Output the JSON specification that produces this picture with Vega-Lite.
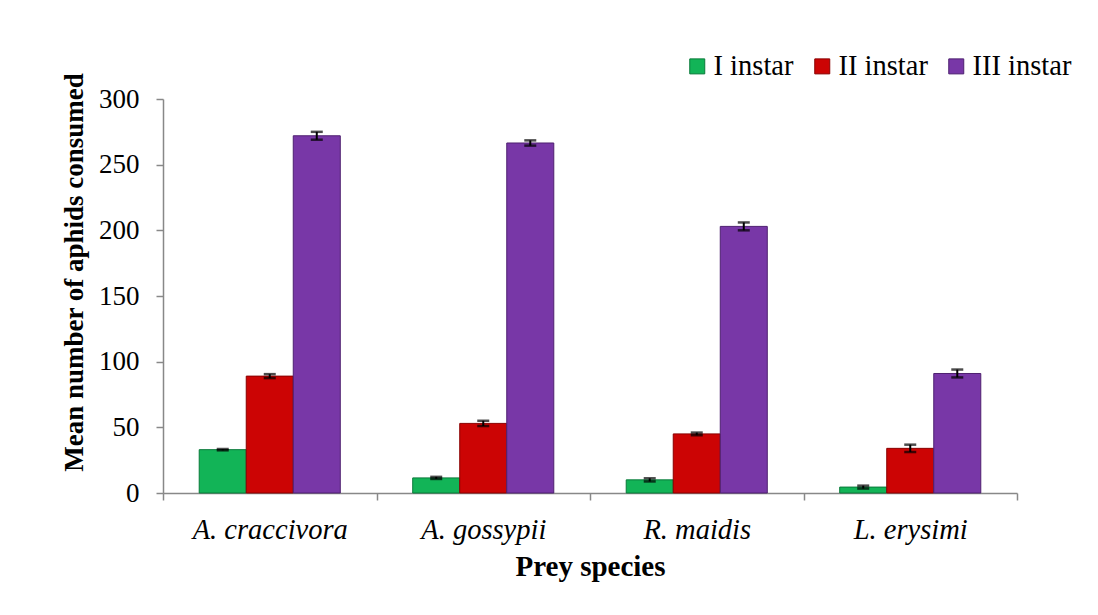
{
  "$schema": "https://vega.github.io/schema/vega-lite/v6.json",
  "width": 854,
  "height": 394,
  "autosize": {"type": "none"},
  "padding": {"left": 163, "top": 99, "right": 81, "bottom": 122},
  "background": "white",
  "config": {
    "view": {"stroke": null},
    "font": "Liberation Serif",
    "axis": {"labelColor": "black", "titleColor": "black", "grid": false, "labelFont": "Liberation Serif", "titleFont": "Liberation Serif"},
    "legend": {"labelFont": "Liberation Serif", "titleFont": "Liberation Serif"}
  },
  "data": {
    "values": [
      {"species": "A. craccivora", "instar": "I instar", "mean": 33, "lo": 32.5, "hi": 33.5},
      {"species": "A. craccivora", "instar": "II instar", "mean": 89, "lo": 87.5, "hi": 90.5},
      {"species": "A. craccivora", "instar": "III instar", "mean": 272, "lo": 269, "hi": 275},
      {"species": "A. gossypii", "instar": "I instar", "mean": 11.5, "lo": 10.7, "hi": 12.3},
      {"species": "A. gossypii", "instar": "II instar", "mean": 53, "lo": 51, "hi": 55},
      {"species": "A. gossypii", "instar": "III instar", "mean": 266.5, "lo": 264.5, "hi": 268.5},
      {"species": "R. maidis", "instar": "I instar", "mean": 10, "lo": 8.8, "hi": 11.2},
      {"species": "R. maidis", "instar": "II instar", "mean": 45, "lo": 44, "hi": 46},
      {"species": "R. maidis", "instar": "III instar", "mean": 203, "lo": 200, "hi": 206},
      {"species": "L. erysimi", "instar": "I instar", "mean": 4.5, "lo": 3.4, "hi": 5.6},
      {"species": "L. erysimi", "instar": "II instar", "mean": 34, "lo": 31.2, "hi": 36.8},
      {"species": "L. erysimi", "instar": "III instar", "mean": 91, "lo": 88, "hi": 94}
    ]
  },
  "encoding": {
    "x": {
      "field": "species",
      "type": "nominal",
      "sort": ["A. craccivora", "A. gossypii", "R. maidis", "L. erysimi"],
      "scale": {"paddingInner": 0, "paddingOuter": 0},
      "axis": {
        "title": "Prey species",
        "titleFontSize": 29,
        "titleFontWeight": "bold",
        "titlePadding": 9,
        "labelFontSize": 28.5,
        "labelFontStyle": "italic",
        "labelAngle": 0,
        "labelPadding": 15,
        "tickBand": "extent",
        "tickSize": 7,
        "tickColor": "#888888",
        "domainColor": "#888888",
        "domainWidth": 1.5,
        "tickWidth": 1.5
      }
    },
    "xOffset": {
      "field": "instar",
      "type": "nominal",
      "sort": ["I instar", "II instar", "III instar"],
      "scale": {"paddingInner": 0, "paddingOuter": 0.77}
    }
  },
  "layer": [
    {
      "mark": {"type": "bar", "strokeWidth": 1},
      "encoding": {
        "y": {
          "field": "mean",
          "type": "quantitative",
          "scale": {"domain": [0, 300]},
          "axis": {
            "values": [0, 50, 100, 150, 200, 250, 300],
            "title": "Mean number of aphids consumed",
            "titleFontSize": 27,
            "titleFontWeight": "bold",
            "titlePadding": 10,
            "titleY": 173,
            "labelFontSize": 27,
            "labelPadding": 17,
            "tickSize": 7,
            "tickColor": "#888888",
            "domainColor": "#888888",
            "domainWidth": 1.5,
            "tickWidth": 1.5
          }
        },
        "color": {
          "field": "instar",
          "type": "nominal",
          "sort": ["I instar", "II instar", "III instar"],
          "scale": {"domain": ["I instar", "II instar", "III instar"], "range": ["#12B457", "#CC0404", "#7837A7"]},
          "legend": {
            "orient": "none",
            "legendX": 520,
            "legendY": -47,
            "direction": "horizontal",
            "title": null,
            "symbolType": "square",
            "symbolSize": 225,
            "symbolStrokeWidth": 1,
            "labelFont": "Liberation Serif",
            "labelFontSize": 28.5,
            "labelColor": "black",
            "labelOffset": 2,
            "columnPadding": 14,
            "padding": 0
          }
        },
        "stroke": {
          "field": "instar",
          "type": "nominal",
          "scale": {"domain": ["I instar", "II instar", "III instar"], "range": ["#0A7A3A", "#8A0000", "#4E2070"]},
          "legend": null
        }
      }
    },
    {
      "mark": {"type": "rule", "color": "black", "strokeWidth": 2},
      "encoding": {
        "y": {"field": "lo", "type": "quantitative"},
        "y2": {"field": "hi"}
      }
    },
    {
      "mark": {"type": "tick", "color": "black", "thickness": 2.5, "size": 12},
      "encoding": {"y": {"field": "lo", "type": "quantitative"}}
    },
    {
      "mark": {"type": "tick", "color": "black", "thickness": 2.5, "size": 12},
      "encoding": {"y": {"field": "hi", "type": "quantitative"}}
    }
  ]
}
